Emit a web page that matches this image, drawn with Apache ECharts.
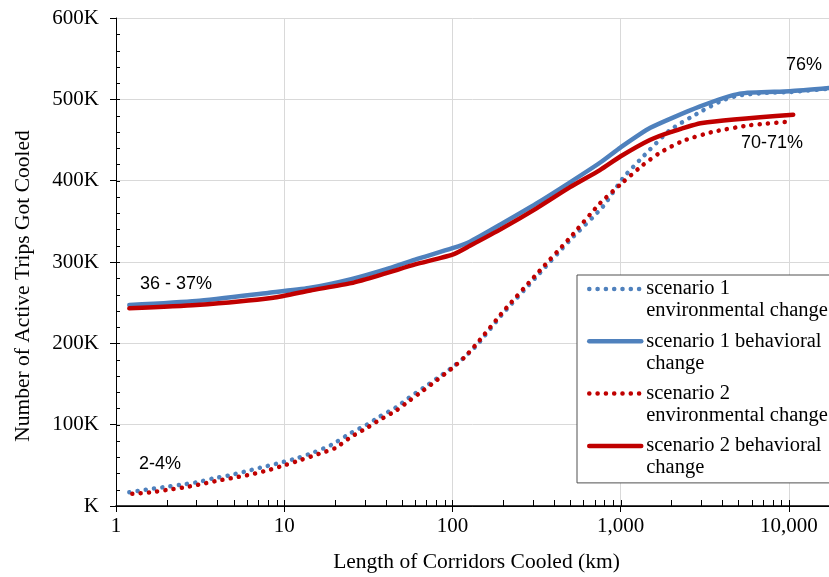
<!DOCTYPE html>
<html><head><meta charset="utf-8">
<script src="https://cdn.jsdelivr.net/npm/echarts@6/dist/echarts.min.js"></script>
<style>html,body{margin:0;padding:0;background:#fff}#chart{width:829px;height:577px}</style>
</head><body><div id="chart"></div>
<script>
// ---- data (y values in thousands of trips) ----
const seriesNames = ['scenario 1\nenvironmental change', 'scenario 1 behavioral\nchange', 'scenario 2\nenvironmental change', 'scenario 2 behavioral\nchange'];

const s1EnvX = [1.2, 1.5, 1.9, 2.4, 3, 3.8, 4.8, 6, 7.5, 9.4, 12, 15, 19, 25, 31, 37, 46, 55, 67, 81, 99, 118, 140, 200, 316, 500, 783, 1030, 1350, 1960, 2940, 4060, 5100, 7400, 10100, 17300];
const s1EnvY = [17, 20, 23, 26, 29, 34, 38, 43, 48, 53, 59, 66, 75, 90, 100, 110, 121, 133, 145, 157, 170, 183, 198, 237, 282, 327, 368, 403, 429, 462, 484, 499, 505, 508, 509, 513];

const s1BehX = [1.2, 3, 8, 14, 25, 40, 60, 100, 127, 200, 316, 500, 752, 1000, 1500, 2940, 5100, 10100, 17300];
const s1BehY = [247, 252, 262, 268, 279, 291, 303, 317, 325, 348, 372, 398, 422, 441, 465, 491, 507, 510, 514];

const s2EnvX = [1.25, 1.64, 2.04, 2.57, 3.24, 4, 5.1, 6.4, 8, 10, 12.7, 16, 20, 25, 31, 37, 46, 55, 67, 81, 99, 118, 140, 200, 316, 500, 752, 1030, 1350, 1700, 2350, 3530, 5800, 10500];
const s2EnvY = [15, 17, 20, 23, 27, 31, 35, 39, 44, 50, 57, 64, 71, 85, 96, 106, 117, 129, 142, 155, 169, 183, 200, 239, 285, 330, 372, 398, 419, 434, 449, 460, 468, 473];

const s2BehX = [1.2, 3, 8.6, 14.3, 25, 40, 60, 100, 127, 200, 316, 500, 752, 1000, 1490, 2000, 3050, 10600];
const s2BehY = [243, 247, 256, 265, 274, 286, 297, 309, 320, 342, 366, 392, 413, 430, 450, 460, 471, 481];

const xTickValues = [1, 10, 100, 1000, 10000];
const xTickLabels = ['1', '10', '100', '1,000', '10,000'];
const yTickValues = [0, 100, 200, 300, 400, 500, 600];
const yTickLabels = ['K', '100K', '200K', '300K', '400K', '500K', '600K'];
const xInnerTicks = [1, 2, 3, 4, 5, 6, 7, 8, 9, 10, 20, 30, 40, 50, 60, 70, 80, 90, 100, 200, 300, 400, 500, 600, 700, 800, 900, 1000, 2000, 3000, 4000, 5000, 6000, 7000, 8000, 9000, 10000];
const yInnerTicks = [20, 40, 60, 80, 100, 120, 140, 160, 180, 200, 220, 240, 260, 280, 300, 320, 340, 360, 380, 400, 420, 440, 460, 480, 500, 520, 540, 560, 580];

const annotations = [
  {text: '36 - 37%', x: 140, y: 285},
  {text: '2-4%', x: 139, y: 465},
  {text: '76%', x: 786, y: 66},
  {text: '70-71%', x: 741, y: 144}
];

// ---- chart ----
const BLUE = '#4F81BD', RED = '#C00000';
const SERIF = '"Liberation Serif", "Times New Roman", serif';
const zip = (xs, ys) => xs.map((x, i) => [x, ys[i]]);

function xLabel(v) {
  for (let i = 0; i < xTickValues.length; i++) {
    if (Math.abs(v - xTickValues[i]) / xTickValues[i] < 1e-6) return xTickLabels[i];
  }
  return '';
}
function yLabel(v) {
  const i = yTickValues.indexOf(Math.round(v));
  return i >= 0 ? yTickLabels[i] : '';
}

const dotted = (c) => ({color: c, width: 4.5, type: [0.1, 8.2], cap: 'round'});
const solid = (c) => ({color: c, width: 4.5, cap: 'round', join: 'round'});

const chart = echarts.init(document.getElementById('chart'), null, {renderer: 'canvas'});
chart.setOption({
  animation: false,
  backgroundColor: '#fff',
  grid: {left: 116, right: 0, top: 18, bottom: 71, containLabel: false, outerBoundsMode: 'none'},
  xAxis: [{
    type: 'log', logBase: 10, min: 1, max: 17300,
    name: 'Length of Corridors Cooled (km)', nameLocation: 'middle', nameGap: 45,
    nameTextStyle: {fontFamily: SERIF, fontSize: 21.5, color: '#000', padding: [0, 0, 0, 8]},
    axisLine: {show: true, onZero: false, lineStyle: {color: '#000', width: 1}},
    axisTick: {show: true, length: 6, lineStyle: {color: '#000'}},
    axisLabel: {formatter: xLabel, fontFamily: SERIF, fontSize: 21, color: '#000', margin: 10, showMaxLabel: false},
    splitLine: {show: true, lineStyle: {color: '#d9d9d9', width: 1}},
    minorTick: {show: false}
  }, {
    type: 'log', logBase: 10, min: 1, max: 17300, position: 'top',
    axisLine: {show: true, lineStyle: {color: '#000', width: 1.5}},
    axisTick: {show: false}, axisLabel: {show: false}, splitLine: {show: false}
  }],
  yAxis: {
    type: 'value', min: 0, max: 600, interval: 100,
    name: 'Number of Active Trips Got Cooled', nameLocation: 'middle', nameGap: 82,
    nameTextStyle: {fontFamily: SERIF, fontSize: 21.5, color: '#000', padding: [0, 48, 0, 0]},
    axisLine: {show: true, lineStyle: {color: '#000', width: 1}},
    axisTick: {show: true, length: 6, lineStyle: {color: '#000'}},
    axisLabel: {formatter: yLabel, fontFamily: SERIF, fontSize: 21, color: '#000', margin: 17},
    splitLine: {show: true, lineStyle: {color: '#d9d9d9', width: 1}}
  },
  legend: {
    orient: 'vertical', left: 577, top: 275,
    data: seriesNames,
    formatter: (name) => '\n' + name,
    itemWidth: 52, itemHeight: 14, itemGap: -13.7,
    padding: [-19, 8, 4, 10],
    borderColor: '#505050', borderWidth: 1, backgroundColor: '#fff',
    textStyle: {fontFamily: SERIF, fontSize: 20.5, color: '#000', lineHeight: 22},
    lineStyle: {width: 4.5},
    itemStyle: {opacity: 0},
    selectedMode: false
  },
  graphic: annotations.map(a => ({
    type: 'text', left: a.x, top: a.y - 10, z: 100,
    style: {text: a.text, fontFamily: '"Liberation Sans", Arial, sans-serif', fontSize: 18, fill: '#000'}
  })),
  series: [
    {name: seriesNames[0], type: 'line', data: zip(s1EnvX, s1EnvY), symbol: 'none', smooth: 0.2, lineStyle: dotted(BLUE), itemStyle: {color: BLUE}, z: 3},
    {name: seriesNames[1], type: 'line', data: zip(s1BehX, s1BehY), symbol: 'none', smooth: 0.2, lineStyle: solid(BLUE), itemStyle: {color: BLUE}, z: 3},
    {name: seriesNames[2], type: 'line', data: zip(s2EnvX, s2EnvY), symbol: 'none', smooth: 0.2, lineStyle: dotted(RED), itemStyle: {color: RED}, z: 3},
    {name: seriesNames[3], type: 'line', data: zip(s2BehX, s2BehY), symbol: 'none', smooth: 0.2, lineStyle: solid(RED), itemStyle: {color: RED}, z: 3},
    {
      name: 'xInner', type: 'custom', silent: true, z: 4,
      data: xInnerTicks.map(v => [v, 0]),
      renderItem: (params, api) => {
        const p = api.coord([api.value(0), 0]);
        const x = Math.round(p[0]) + 0.5;
        return {type: 'line', shape: {x1: x, y1: p[1], x2: x, y2: p[1] - 6}, style: {stroke: '#000', lineWidth: 1}};
      }
    },
    {
      name: 'yInner', type: 'custom', silent: true, z: 4,
      data: yInnerTicks.map(v => [1, v]),
      renderItem: (params, api) => {
        const p = api.coord([1, api.value(1)]);
        const y = Math.round(p[1]) + 0.5;
        return {type: 'line', shape: {x1: p[0], y1: y, x2: p[0] + 4, y2: y}, style: {stroke: '#000', lineWidth: 1}};
      }
    }
  ]
});
</script></body></html>
